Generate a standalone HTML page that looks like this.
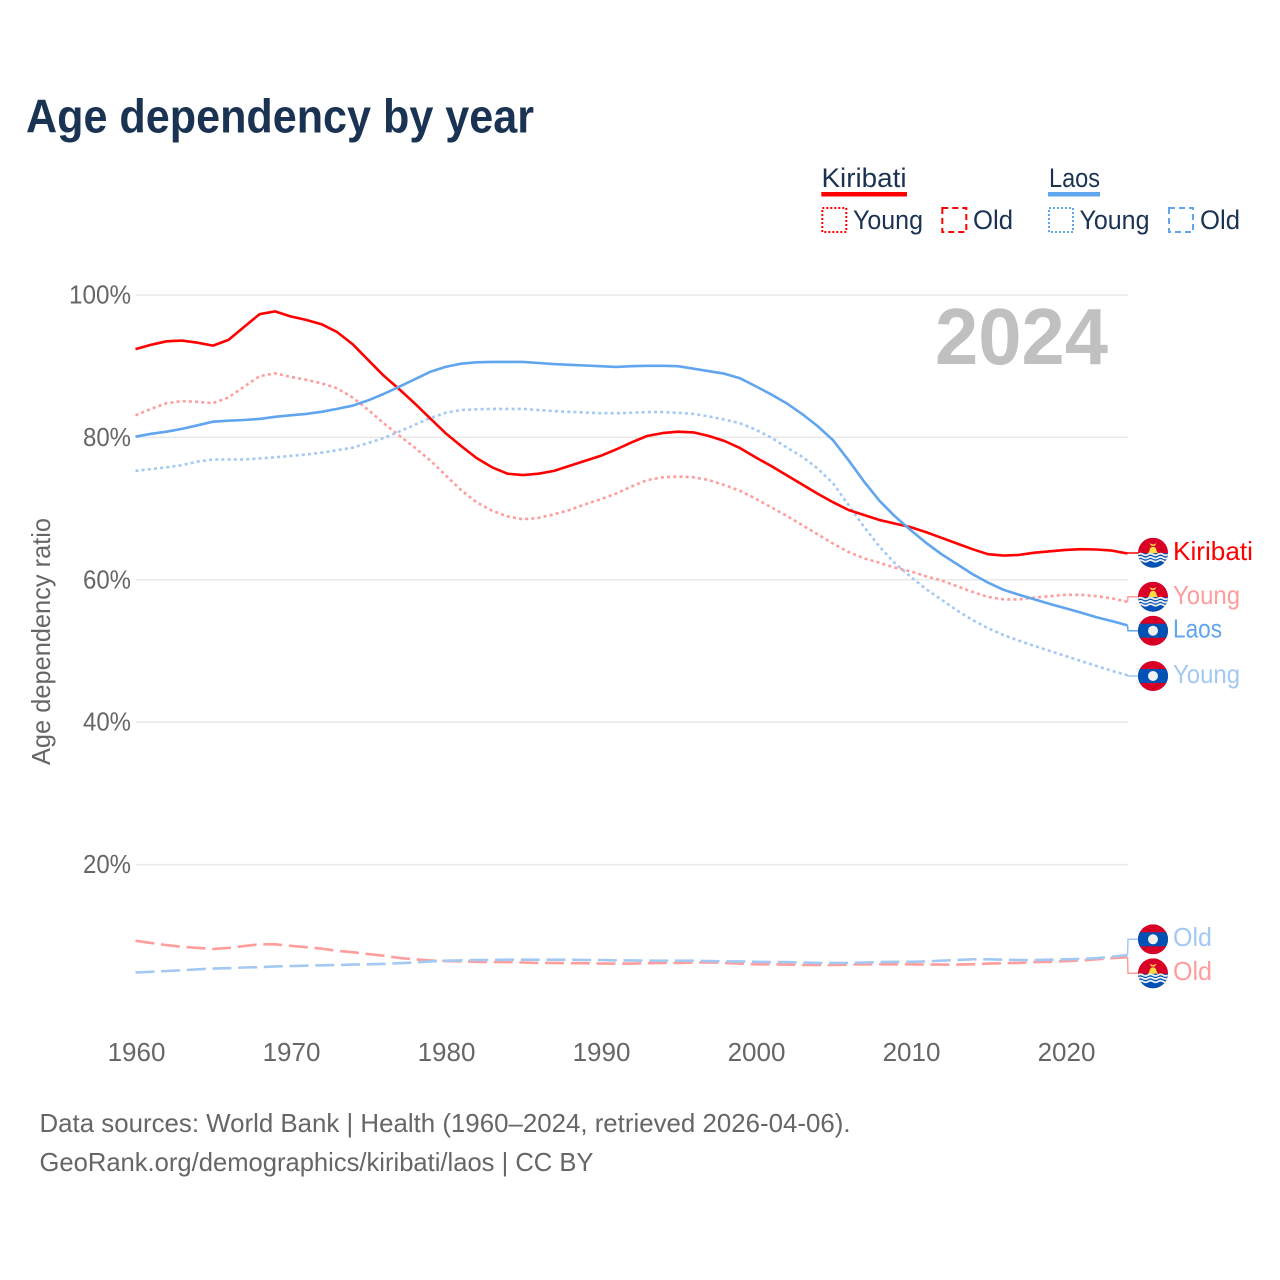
<!DOCTYPE html>
<html lang="en">
<head>
<meta charset="utf-8">
<title>Age dependency by year</title>
<style>
html,body{margin:0;padding:0;background:#fff;}
svg{display:block;font-family:"Liberation Sans",Arial,sans-serif;}
.tick{font-size:26px;fill:#666;}
.legend{font-size:27px;fill:#1a3353;}
.end{font-size:26px;}
.foot{font-size:26px;fill:#666;}
</style>
</head>
<body>
<svg id="chart" xmlns="http://www.w3.org/2000/svg" width="1280" height="1280" viewBox="0 0 1280 1280">
  <defs>
    <clipPath id="flag-clip"><circle cx="0" cy="0" r="15"/></clipPath>
    <g id="flag-kiribati" clip-path="url(#flag-clip)">
      <rect x="-15" y="-15" width="30" height="30" fill="#d80027"/>
      <circle cx="0" cy="-2.5" r="3.4" fill="#ffda44"/>
      <path d="M-5 0.5 L-3 -3 L-1.5 -1.5 L0 -5 L1.5 -1.5 L3 -3 L5 0.5 Z" fill="#ffda44"/>
      <path d="M-3.5 -9.5 L0 -8.2 L3.5 -9.5 L1.8 -6.8 L-1.8 -6.8 Z" fill="#ffda44"/>
      <rect x="-15" y="0.5" width="30" height="15" fill="#0052b4"/>
      <path d="M-15 1.8 q2.5 -1.6 5 0 t5 0 t5 0 t5 0 t5 0 t5 0 M-15 5 q2.5 -1.6 5 0 t5 0 t5 0 t5 0 t5 0 t5 0 M-15 8.2 q2.5 -1.6 5 0 t5 0 t5 0 t5 0 t5 0 t5 0" fill="none" stroke="#f0f0f0" stroke-width="1.8"/>
    </g>
    <g id="flag-laos" clip-path="url(#flag-clip)">
      <rect x="-15" y="-15" width="30" height="30" fill="#d80027"/>
      <rect x="-15" y="-7" width="30" height="14" fill="#0052b4"/>
      <circle cx="0" cy="0" r="5" fill="#f0f0f0"/>
    </g>
  </defs>

  <text x="26" y="132.5" font-size="47" font-weight="700" fill="#1a3353" textLength="508" lengthAdjust="spacingAndGlyphs">Age dependency by year</text>

  <g>
    <text class="legend" x="821.5" y="187" textLength="85" lengthAdjust="spacingAndGlyphs">Kiribati</text>
    <rect x="821.3" y="192" width="85.7" height="4.5" fill="#ff0000"/>
    <rect x="822.3" y="208" width="24" height="24" fill="none" stroke="#ff0000" stroke-width="2" stroke-dasharray="2 2"/>
    <text class="legend" x="853" y="229" textLength="70" lengthAdjust="spacingAndGlyphs">Young</text>
    <rect x="942.3" y="208" width="24" height="24" fill="none" stroke="#ff0000" stroke-width="2" stroke-dasharray="6 4"/>
    <text class="legend" x="973" y="229" textLength="40" lengthAdjust="spacingAndGlyphs">Old</text>

    <text class="legend" x="1049" y="187" textLength="51" lengthAdjust="spacingAndGlyphs">Laos</text>
    <rect x="1048" y="192" width="52" height="4.5" fill="#60a5ee"/>
    <rect x="1049" y="208" width="24" height="24" fill="none" stroke="#60a5ee" stroke-width="2" stroke-dasharray="2 2"/>
    <text class="legend" x="1079.5" y="229" textLength="70" lengthAdjust="spacingAndGlyphs">Young</text>
    <rect x="1169" y="208" width="24" height="24" fill="none" stroke="#60a5ee" stroke-width="2" stroke-dasharray="6 4"/>
    <text class="legend" x="1200" y="229" textLength="40" lengthAdjust="spacingAndGlyphs">Old</text>
  </g>

  <g id="grid"></g>
  <g id="y-ticks"></g>
  <g id="x-ticks"></g>

  <text class="tick" transform="translate(50,765) rotate(-90)" x="0" y="0" font-size="25" textLength="247" lengthAdjust="spacingAndGlyphs">Age dependency ratio</text>

  <text x="935" y="364" font-size="80" font-weight="700" fill="#c0c0c0" textLength="173" lengthAdjust="spacingAndGlyphs">2024</text>

  <g id="series"></g>
  <g id="leaders"></g>

  <g>
    <use href="#flag-kiribati" x="1153" y="552.7"/>
    <text class="end" x="1173" y="560" fill="#ff0000" textLength="80" lengthAdjust="spacingAndGlyphs">Kiribati</text>
    <use href="#flag-kiribati" x="1153" y="596.7"/>
    <text class="end" x="1173" y="604" fill="#ff9d9d" textLength="67" lengthAdjust="spacingAndGlyphs">Young</text>
    <use href="#flag-laos" x="1153" y="630.7"/>
    <text class="end" x="1173" y="637.5" fill="#60a5ee" textLength="49" lengthAdjust="spacingAndGlyphs">Laos</text>
    <use href="#flag-laos" x="1153" y="676"/>
    <text class="end" x="1173" y="683" fill="#a3c9f3" textLength="67" lengthAdjust="spacingAndGlyphs">Young</text>
    <use href="#flag-laos" x="1153" y="939.3"/>
    <text class="end" x="1173" y="946" fill="#a3c9f3" textLength="39" lengthAdjust="spacingAndGlyphs">Old</text>
    <use href="#flag-kiribati" x="1153" y="973.3"/>
    <text class="end" x="1173" y="980" fill="#ff9d9d" textLength="39" lengthAdjust="spacingAndGlyphs">Old</text>
  </g>

  <text class="foot" x="39.5" y="1132" textLength="811" lengthAdjust="spacingAndGlyphs">Data sources: World Bank | Health (1960–2024, retrieved 2026-04-06).</text>
  <text class="foot" x="39.5" y="1171" textLength="554" lengthAdjust="spacingAndGlyphs">GeoRank.org/demographics/kiribati/laos | CC BY</text>

<script>
const startYear = 1960;
const xTickYears = [1960, 1970, 1980, 1990, 2000, 2010, 2020];
const yTickValues = [20, 40, 60, 80, 100];
const kiribatiTotal = [
  92.4,93.0,93.5,93.6,93.3,92.9,93.7,95.5,97.3,97.7,
  97.0,96.5,95.9,94.8,93.1,90.9,88.7,86.8,84.8,82.7,
  80.6,78.8,77.1,75.8,74.9,74.7,74.9,75.3,76.0,76.7,
  77.4,78.3,79.3,80.2,80.6,80.8,80.7,80.2,79.5,78.5,
  77.2,76.0,74.7,73.4,72.1,70.9,69.8,69.1,68.4,67.9,
  67.4,66.7,65.9,65.1,64.3,63.6,63.4,63.5,63.8,64.0,
  64.2,64.3,64.25,64.1,63.7];
const kiribatiYoung = [
  83.1,84.0,84.8,85.1,85.0,84.8,85.6,87.1,88.6,89.0,
  88.5,88.1,87.6,86.9,85.6,83.9,82.0,80.3,78.6,76.8,
  74.7,72.6,70.9,69.7,68.9,68.5,68.7,69.2,69.8,70.6,
  71.3,72.1,73.1,74.0,74.4,74.5,74.4,74.0,73.3,72.5,
  71.4,70.2,69.0,67.7,66.4,65.1,63.9,63.0,62.4,61.7,
  61.2,60.5,59.9,59.1,58.3,57.6,57.25,57.25,57.5,57.7,
  57.9,57.9,57.7,57.4,56.9];
const kiribatiOld = [
  9.3,9.0,8.7,8.45,8.3,8.15,8.3,8.55,8.8,8.8,
  8.6,8.4,8.2,7.9,7.7,7.45,7.2,6.9,6.7,6.55,
  6.45,6.4,6.35,6.3,6.3,6.25,6.2,6.2,6.15,6.15,
  6.1,6.1,6.1,6.15,6.2,6.2,6.25,6.25,6.2,6.1,
  6.0,6.0,5.95,5.9,5.9,5.9,5.95,6.0,6.0,6.0,
  6.0,5.95,5.95,5.95,6.0,6.1,6.15,6.2,6.3,6.35,
  6.45,6.55,6.7,6.85,7.0];
const laosTotal = [
  80.1,80.5,80.8,81.2,81.7,82.2,82.35,82.45,82.6,82.9,
  83.1,83.3,83.6,84.0,84.45,85.2,86.1,87.1,88.15,89.2,
  89.9,90.35,90.55,90.6,90.6,90.6,90.45,90.3,90.2,90.1,
  90.0,89.9,90.0,90.05,90.05,90.0,89.65,89.3,88.95,88.3,
  87.2,86.05,84.8,83.3,81.6,79.6,76.8,73.8,71.1,68.9,
  67.0,65.2,63.6,62.2,60.8,59.6,58.6,57.9,57.25,56.6,
  56.0,55.4,54.75,54.2,53.6];
const laosYoung = [
  75.3,75.55,75.8,76.1,76.6,76.9,76.9,76.9,77.05,77.2,
  77.4,77.6,77.85,78.2,78.55,79.2,79.9,80.8,81.75,82.7,
  83.45,83.85,83.95,84.0,84.0,84.0,83.85,83.7,83.6,83.5,
  83.4,83.4,83.45,83.55,83.55,83.45,83.3,82.95,82.5,82.0,
  81.1,80.0,78.6,77.3,75.65,73.55,70.5,67.45,64.65,62.3,
  60.45,58.7,57.2,55.7,54.35,53.2,52.25,51.45,50.7,50.0,
  49.3,48.6,47.9,47.2,46.6];
const laosOld = [
  4.85,4.95,5.05,5.15,5.3,5.4,5.45,5.55,5.6,5.7,
  5.75,5.8,5.85,5.9,5.95,6.0,6.05,6.15,6.25,6.4,
  6.5,6.55,6.6,6.6,6.65,6.65,6.65,6.65,6.65,6.6,
  6.6,6.55,6.55,6.5,6.5,6.5,6.5,6.45,6.4,6.4,
  6.35,6.3,6.3,6.25,6.2,6.2,6.2,6.25,6.3,6.35,
  6.35,6.4,6.5,6.6,6.7,6.7,6.65,6.6,6.6,6.65,
  6.7,6.75,6.85,7.05,7.3];

const NS = 'http://www.w3.org/2000/svg';
function xScale(year) { return 135.5 + (year - startYear) * 15.5; }
function yScale(value) { return 1007 - value * 7.12; }
function make(tag, parentId, attrs) {
  const el = document.createElementNS(NS, tag);
  for (const k in attrs) el.setAttribute(k, attrs[k]);
  document.getElementById(parentId).appendChild(el);
  return el;
}

yTickValues.forEach(function (v) {
  const line = make('line', 'grid', {x1: 136, x2: 1128, y1: yScale(v), y2: yScale(v), stroke: '#e8e8e8', 'stroke-width': 1.5});
  
  
  const s = v + '%';
  const label = make('text', 'y-ticks', {class: 'tick', x: 131, y: yScale(v) + 8.5, 'text-anchor': 'end', textLength: (s.length - 1) * 14 + 20, lengthAdjust: 'spacingAndGlyphs'});
  label.textContent = s;
  
  
});

xTickYears.forEach(function (year) {
  const label = make('text', 'x-ticks', {class: 'tick', x: xScale(year) + 1, y: 1061, 'text-anchor': 'middle'});
  label.textContent = String(year);
  
  
});

function drawLine(values, color, dash) {
  const pts = values.map(function (v, i) {
    return xScale(startYear + i).toFixed(1) + ',' + yScale(v).toFixed(1);
  }).join(' ');
  return make('polyline', 'series', {points: pts, fill: 'none', stroke: color, 'stroke-width': 2.6, 'stroke-linejoin': 'round', 'stroke-dasharray': dash});
}
function drawLeader(values, labelY, color) {
  const endX = xScale(startYear + values.length - 1);
  const d = 'M' + endX + ' ' + yScale(values[values.length - 1]).toFixed(1) + ' L' + (endX + 0.5) + ' ' + labelY + ' L1138 ' + labelY;
  return make('path', 'leaders', {d: d, fill: 'none', stroke: color, 'stroke-width': 1.5});
}

const lineKY = drawLine(kiribatiYoung, '#ff9d9d', '3 3.2');


const lineKO = drawLine(kiribatiOld, '#ff9d9d', '19 6.7');


const lineLY = drawLine(laosYoung, '#a3c9f3', '3 3.2');


const lineLO = drawLine(laosOld, '#a3c9f3', '19 6.7');


const lineKT = drawLine(kiribatiTotal, '#ff0000', 'none');


const lineLT = drawLine(laosTotal, '#60a5ee', 'none');



const leadKT = drawLeader(kiribatiTotal, 553, '#ff0000');


const leadKY = drawLeader(kiribatiYoung, 596.7, '#ff9d9d');


const leadLT = drawLeader(laosTotal, 630.7, '#60a5ee');


const leadLY = drawLeader(laosYoung, 676, '#a3c9f3');


const leadLO = drawLeader(laosOld, 939.3, '#a3c9f3');


const leadKO = drawLeader(kiribatiOld, 973.3, '#ff9d9d');


</script>
</svg>
</body>
</html>
